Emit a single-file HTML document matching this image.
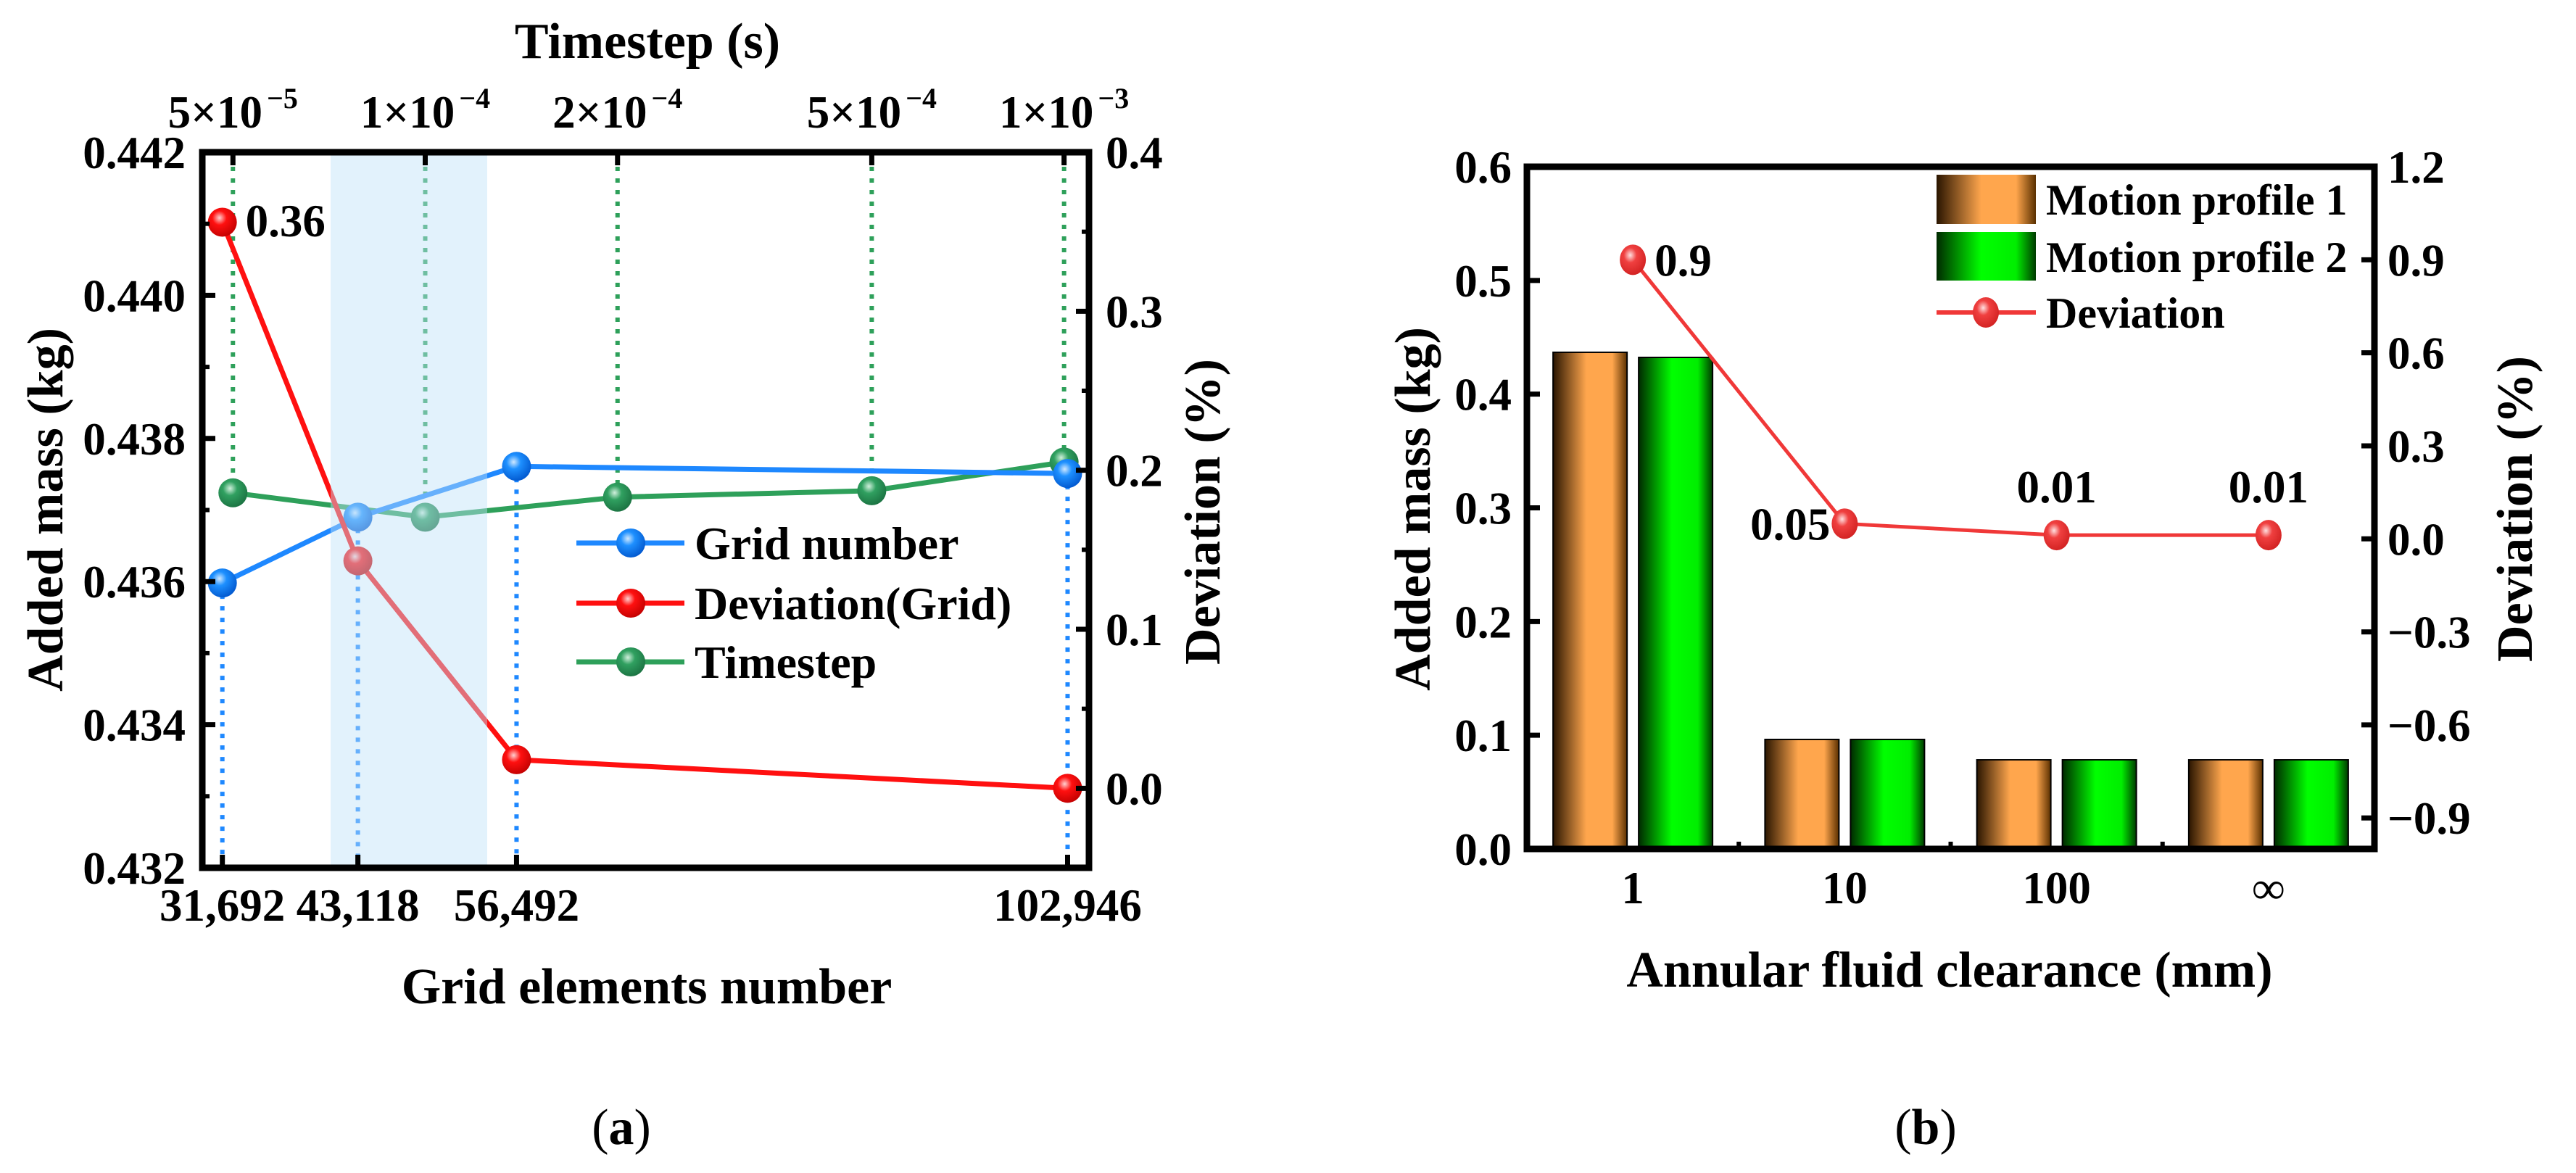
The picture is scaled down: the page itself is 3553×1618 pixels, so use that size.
<!DOCTYPE html>
<html><head><meta charset="utf-8"><style>
html,body{margin:0;padding:0;background:#fff;}
svg{display:block;font-family:"Liberation Serif",serif;font-weight:bold;}
</style></head><body>
<svg id="fig" width="3553" height="1618" viewBox="0 0 3553 1618" xmlns="http://www.w3.org/2000/svg">
<defs>
<radialGradient id="gBlue" cx="0.4" cy="0.35" r="0.7"><stop offset="0" stop-color="#cfe8ff"/><stop offset="0.35" stop-color="#1e90ff"/><stop offset="1" stop-color="#0055cc"/></radialGradient>
<radialGradient id="gRed" cx="0.4" cy="0.35" r="0.7"><stop offset="0" stop-color="#ffd0d0"/><stop offset="0.35" stop-color="#ff1010"/><stop offset="1" stop-color="#c00000"/></radialGradient>
<radialGradient id="gGreen" cx="0.4" cy="0.35" r="0.7"><stop offset="0" stop-color="#d0f0dc"/><stop offset="0.35" stop-color="#30a060"/><stop offset="1" stop-color="#1a7040"/></radialGradient>
<radialGradient id="gRed2" cx="0.4" cy="0.35" r="0.7"><stop offset="0" stop-color="#ffe0e0"/><stop offset="0.35" stop-color="#f04040"/><stop offset="1" stop-color="#d02020"/></radialGradient>
<linearGradient id="gOrange" x1="0" x2="1" y1="0" y2="0"><stop offset="0" stop-color="#2a1500"/><stop offset="0.45" stop-color="#ffa64d"/><stop offset="0.8" stop-color="#ffa64d"/><stop offset="1" stop-color="#5a3000"/></linearGradient>
<linearGradient id="gLime" x1="0" x2="1" y1="0" y2="0"><stop offset="0" stop-color="#002a00"/><stop offset="0.45" stop-color="#00ff00"/><stop offset="0.8" stop-color="#00ee00"/><stop offset="1" stop-color="#003a00"/></linearGradient>
</defs>
<g id="chartA"></g>
<g id="chartB"></g>
<text x="857" y="1578" font-size="70" text-anchor="middle" font-weight="normal">(<tspan font-weight="bold">a</tspan>)</text>
<text x="2656" y="1578" font-size="70" text-anchor="middle" font-weight="normal">(<tspan font-weight="bold">b</tspan>)</text>
</svg>
<script>
// ---- Chart A data ----
const gridCounts = [31692, 43118, 56492, 102946];
const gridMass = [0.43598, 0.43690, 0.43761, 0.43751];
const gridDeviation = [0.356, 0.143, 0.018, 0.0];
const timesteps = [5e-5, 1e-4, 2e-4, 5e-4, 1e-3];
const timestepMass = [0.43724, 0.43690, 0.43718, 0.43727, 0.43767];
const timestepLabels = [["5","−5"],["1","−4"],["2","−4"],["5","−4"],["1","−3"]];
const massTicks = [0.432, 0.434, 0.436, 0.438, 0.440, 0.442];
const devTicksA = [0.0, 0.1, 0.2, 0.3, 0.4];
const gridTickLabels = ["31,692","43,118","56,492","102,946"];
// ---- Chart B data ----
const clearances = ["1","10","100","∞"];
const profile1 = [0.4368, 0.0963, 0.0784, 0.0784];
const profile2 = [0.4323, 0.0963, 0.0784, 0.0784];
const deviationB = [0.90, 0.049, 0.012, 0.012];
const deviationBLabels = ["0.9","0.05","0.01","0.01"];
const massTicksB = [0.0, 0.1, 0.2, 0.3, 0.4, 0.5, 0.6];
const devTicksB = [-0.9, -0.6, -0.3, 0.0, 0.3, 0.6, 0.9, 1.2];

const NS = "http://www.w3.org/2000/svg";
const FT = 63, FA = 70, FL = 64;
function mk(parent, tag, attrs, text){
  const e = document.createElementNS(NS, tag);
  for (const k in attrs) e.setAttribute(k, attrs[k]);
  if (text !== undefined) e.textContent = text;
  parent.appendChild(e);
  return e;
}
const fmt = (v, d) => (v < 0 ? "−" : "") + Math.abs(v).toFixed(d);

// ================= Chart A =================
(function(){
  const g = document.getElementById('chartA');
  const L = 279, R = 1502, T = 210, B = 1197;
  const xG = v => L + (v - 30000) / (104750 - 30000) * (R - L);
  const xT = t => L + (Math.log10(t) - (-4.349)) / ((-2.961) - (-4.349)) * (R - L);
  const yM = v => B - (v - 0.432) / (0.442 - 0.432) * (B - T);
  const yD = v => B - (v - (-0.05)) / (0.4 - (-0.05)) * (B - T);

  timesteps.forEach((t, i) => {
    const l = mk(g, 'line', {x1: xT(t), x2: xT(t), y1: T + 20, y2: yM(timestepMass[i]), stroke: '#2ea05a', 'stroke-width': 6, 'stroke-dasharray': '6 10'});
    
    
  });
  gridCounts.forEach((c, i) => {
    const l = mk(g, 'line', {x1: xG(c), x2: xG(c), y1: yM(gridMass[i]), y2: B - 12, stroke: '#1e88ff', 'stroke-width': 6, 'stroke-dasharray': '6 10'});
    
    
  });

  function series(xs, ys, color, grad, name){
    const pts = xs.map((x, i) => x + ',' + ys[i]).join(' ');
    const pl = mk(g, 'polyline', {points: pts, fill: 'none', stroke: color, 'stroke-width': 7});
    
    
    xs.forEach((x, i) => {
      const c = mk(g, 'circle', {cx: x, cy: ys[i], r: 20, fill: 'url(#' + grad + ')'});
      
      
    });
  }
  series(timesteps.map(xT), timestepMass.map(yM), '#2ea05a', 'gGreen', 'timestep');
  series(gridCounts.map(xG), gridMass.map(yM), '#1e88ff', 'gBlue', 'grid-number');
  series(gridCounts.map(xG), gridDeviation.map(yD), '#ff1010', 'gRed', 'deviation-grid');

  const band = mk(g, 'rect', {x: 456, y: T, width: 216, height: B - T, fill: '#bfe3f8', 'fill-opacity': 0.45});
  
  

  const lbl = mk(g, 'text', {x: xG(gridCounts[0]) + 32, y: yD(gridDeviation[0]) + 5, 'font-size': FT, 'dominant-baseline': 'middle'}, "0.36");
  
  

  const fr = mk(g, 'rect', {x: L, y: T, width: R - L, height: B - T, fill: 'none', stroke: '#000', 'stroke-width': 9});
  
  

  massTicks.forEach(v => {
    mk(g, 'line', {x1: L, x2: L + 18, y1: yM(v), y2: yM(v), stroke: '#000', 'stroke-width': 7});
    const t = mk(g, 'text', {x: 256, y: yM(v) + 22, 'font-size': FT, 'text-anchor': 'end'}, v.toFixed(3));
    
    
  });
  for (let v = 0.433; v < 0.442; v += 0.002) mk(g, 'line', {x1: L, x2: L + 10, y1: yM(v), y2: yM(v), stroke: '#000', 'stroke-width': 6});
  devTicksA.forEach(v => {
    mk(g, 'line', {x1: R, x2: R - 18, y1: yD(v), y2: yD(v), stroke: '#000', 'stroke-width': 7});
    const t = mk(g, 'text', {x: 1525, y: yD(v) + 22, 'font-size': FT}, v.toFixed(1));
    
    
  });
  for (let v = 0.05; v < 0.4; v += 0.1) mk(g, 'line', {x1: R, x2: R - 10, y1: yD(v), y2: yD(v), stroke: '#000', 'stroke-width': 6});
  gridCounts.forEach((c, i) => {
    mk(g, 'line', {x1: xG(c), x2: xG(c), y1: B, y2: B - 18, stroke: '#000', 'stroke-width': 7});
    const t = mk(g, 'text', {x: xG(c), y: 1270, 'font-size': FT, 'text-anchor': 'middle'}, gridTickLabels[i]);
    
    
  });
  timesteps.forEach((ts, i) => {
    mk(g, 'line', {x1: xT(ts), x2: xT(ts), y1: T, y2: T + 18, stroke: '#000', 'stroke-width': 7});
    const t = mk(g, 'text', {x: xT(ts), y: 176, 'font-size': FT, 'text-anchor': 'middle'});
    
    
    mk(t, 'tspan', {}, timestepLabels[i][0] + "×10");
    mk(t, 'tspan', {'font-size': 40, dy: -27, dx: 6}, timestepLabels[i][1]);
  });

  const tt = mk(g, 'text', {x: 893, y: 80, 'font-size': FA, 'text-anchor': 'middle'}, "Timestep (s)");
   
  const xt = mk(g, 'text', {x: 892, y: 1384, 'font-size': FA, 'text-anchor': 'middle'}, "Grid elements number");
   
  const yl = mk(g, 'text', {x: 0, y: 0, 'font-size': FA, 'text-anchor': 'middle', transform: 'translate(86,703) rotate(-90)'}, "Added mass (kg)");
   
  const yr = mk(g, 'text', {x: 0, y: 0, 'font-size': FA, 'text-anchor': 'middle', transform: 'translate(1682,706) rotate(-90)'}, "Deviation (%)");
   

  const legend = [["Grid number", '#1e88ff', 'gBlue', 749], ["Deviation(Grid)", '#ff1010', 'gRed', 832], ["Timestep", '#2ea05a', 'gGreen', 913]];
  legend.forEach(e => {
    const lg = mk(g, 'g', {});
    
    
    mk(lg, 'line', {x1: 795, x2: 944, y1: e[3], y2: e[3], stroke: e[1], 'stroke-width': 7});
    mk(lg, 'circle', {cx: 870, cy: e[3], r: 20, fill: 'url(#' + e[2] + ')'});
    mk(lg, 'text', {x: 958, y: e[3] + 22, 'font-size': FL}, e[0]);
  });
})();

// ================= Chart B =================
(function(){
  const g = document.getElementById('chartB');
  const L = 2106, R = 3275, T = 230, B = 1171;
  const bw = (R - L) / clearances.length;
  const xC = i => L + bw * (i + 0.5);
  const yM = v => B - v / 0.6 * (B - T);
  const yD = v => B - (v - (-1.0)) / (1.2 - (-1.0)) * (B - T);

  clearances.forEach((c, i) => {
    const b1 = mk(g, 'rect', {x: xC(i) - 110, y: yM(profile1[i]), width: 102, height: B - yM(profile1[i]), fill: 'url(#gOrange)', stroke: '#000', 'stroke-width': 2});
    
    
    const b2 = mk(g, 'rect', {x: xC(i) + 8, y: yM(profile2[i]), width: 102, height: B - yM(profile2[i]), fill: 'url(#gLime)', stroke: '#000', 'stroke-width': 2});
    
    
  });

  const pts = clearances.map((c, i) => xC(i) + ',' + yD(deviationB[i])).join(' ');
  const pl = mk(g, 'polyline', {points: pts, fill: 'none', stroke: '#f03838', 'stroke-width': 5});
  
  
  clearances.forEach((c, i) => {
    const cx = xC(i), cy = yD(deviationB[i]);
    const p = mk(g, 'ellipse', {cx: cx, cy: cy, rx: 18, ry: 21, fill: 'url(#gRed2)'});
    
    
    let a = {x: cx + 30, y: cy + 22, 'font-size': FT};
    if (i === 1) a = {x: cx - 20, y: cy + 22, 'font-size': FT, 'text-anchor': 'end'};
    if (i >= 2) a = {x: cx, y: cy - 45, 'font-size': FT, 'text-anchor': 'middle'};
    const t = mk(g, 'text', a, deviationBLabels[i]);
    
    
  });

  const fr = mk(g, 'rect', {x: L, y: T, width: R - L, height: B - T, fill: 'none', stroke: '#000', 'stroke-width': 9});
  
  

  massTicksB.forEach(v => {
    mk(g, 'line', {x1: L, x2: L + 18, y1: yM(v), y2: yM(v), stroke: '#000', 'stroke-width': 7});
    const t = mk(g, 'text', {x: 2085, y: yM(v) + 22, 'font-size': FT, 'text-anchor': 'end'}, v.toFixed(1));
    
    
  });
  devTicksB.forEach(v => {
    mk(g, 'line', {x1: R, x2: R - 18, y1: yD(v), y2: yD(v), stroke: '#000', 'stroke-width': 7});
    const t = mk(g, 'text', {x: 3293, y: yD(v) + 22, 'font-size': FT}, fmt(v, 1));
    
    
  });
  for (let i = 1; i < clearances.length; i++) mk(g, 'line', {x1: L + bw * i, x2: L + bw * i, y1: B, y2: B - 10, stroke: '#000', 'stroke-width': 6});
  clearances.forEach((c, i) => {
    const t = mk(g, 'text', {x: xC(i), y: 1246, 'font-size': FT, 'text-anchor': 'middle'}, c);
    
    
  });

  const xt = mk(g, 'text', {x: 2689, y: 1361, 'font-size': FA, 'text-anchor': 'middle'}, "Annular fluid clearance (mm)");
   
  const yl = mk(g, 'text', {x: 0, y: 0, 'font-size': FA, 'text-anchor': 'middle', transform: 'translate(1972,702) rotate(-90)'}, "Added mass (kg)");
   
  const yr = mk(g, 'text', {x: 0, y: 0, 'font-size': FA, 'text-anchor': 'middle', transform: 'translate(3492,702) rotate(-90)'}, "Deviation (%)");
   

  const FB = 60;
  const l1 = mk(g, 'g', {});  
  mk(l1, 'rect', {x: 2671, y: 241, width: 137, height: 68, fill: 'url(#gOrange)'});
  mk(l1, 'text', {x: 2822, y: 296, 'font-size': FB}, "Motion profile 1");
  const l2 = mk(g, 'g', {});  
  mk(l2, 'rect', {x: 2671, y: 320, width: 137, height: 67, fill: 'url(#gLime)'});
  mk(l2, 'text', {x: 2822, y: 375, 'font-size': FB}, "Motion profile 2");
  const l3 = mk(g, 'g', {});  
  mk(l3, 'line', {x1: 2671, x2: 2808, y1: 431, y2: 431, stroke: '#f03838', 'stroke-width': 6});
  mk(l3, 'ellipse', {cx: 2739, cy: 431, rx: 18, ry: 21, fill: 'url(#gRed2)'});
  mk(l3, 'text', {x: 2822, y: 452, 'font-size': FB}, "Deviation");
})();
</script>
</body></html>
